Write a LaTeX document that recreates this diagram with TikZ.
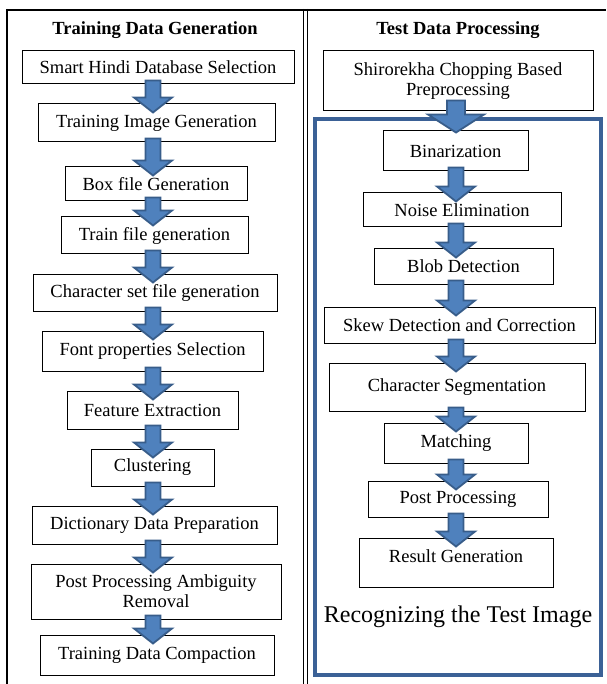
\documentclass[tikz,border=0pt]{standalone}
\usepackage{fontspec}
\setmainfont{Liberation Serif}
\usepackage{xcolor}
\usetikzlibrary{calc}

\definecolor{arrowfill}{HTML}{4F81BD}
\definecolor{arrowline}{HTML}{385D8A}
\definecolor{framecol}{HTML}{3B6196}

\tikzset{
	procbox/.style={draw=black, line width=1pt, fill=white, inner sep=0pt, align=center,
		font=\fontsize{18.5}{20}\selectfont},
	headtext/.style={font=\fontsize{18.5}{20}\selectfont\bfseries},
	blockarrow/.style={fill=arrowfill, draw=arrowline, line width=1.8pt, line join=miter}
}

% block arrow sizes (changed for the wide arrow)
\newcommand{\arrowshaft}{7.5pt}
\newcommand{\arrowwing}{19pt}
\newcommand{\arrowhead}{15pt}
\newcommand{\arrowstart}{4pt}
\newcommand{\arrowend}{9pt}
\newcommand{\flowarrow}[3]{%
	\draw[blockarrow] let \p1=(#1), \p2=(#2.south), \p3=(#3.north) in
		(\x1-\arrowshaft,\y2+\arrowstart) -- (\x1+\arrowshaft,\y2+\arrowstart)
		-- (\x1+\arrowshaft,\y3-\arrowend+\arrowhead) -- (\x1+\arrowwing,\y3-\arrowend+\arrowhead)
		-- (\x1,\y3-\arrowend) -- (\x1-\arrowwing,\y3-\arrowend+\arrowhead)
		-- (\x1-\arrowshaft,\y3-\arrowend+\arrowhead) -- cycle;}

\begin{document}
\begin{tikzpicture}[x=1pt, y=-1pt]
	\useasboundingbox (0,0) rectangle (606,684);
	% table lines
	\draw[line width=2pt] (6,10) -- (606,10);
	\draw[line width=2pt] (7,9) -- (7,684);
	\draw[line width=1.5pt] (303.5,9) -- (303.5,684);
	\draw[line width=1.5pt] (307.5,9) -- (307.5,684);
	\node[headtext] (lhead) at (155,30) {Training Data Generation};
	\node[headtext] (rhead) at (458,30) {Test Data Processing};
	\coordinate (lcol) at (153,0);
	\coordinate (rcol) at (456,0);

	% training column
	\node[procbox, minimum width=272, minimum height=33] (a1) at (158,67.5) {Smart Hindi Database Selection};
	\node[procbox, minimum width=237, minimum height=38] (a2) at (156.5,123) {Training Image Generation};
	\node[procbox, minimum width=182, minimum height=34] (a3) at (156,184) {Box file Generation};
	\node[procbox, minimum width=187, minimum height=37] (a4) at (154.5,235.5) {Train file generation};
	\node[procbox, minimum width=244, minimum height=37] (a5) at (155,292.5) {Character set file generation};
	\node[procbox, minimum width=221, minimum height=40] (a6) at (152.5,351) {Font properties Selection};
	\node[procbox, minimum width=171, minimum height=38] (a7) at (152.5,410) {Feature Extraction};
	\node[procbox, minimum width=123, minimum height=37] (a8) at (152.5,467.5) {Clustering};
	\node[procbox, minimum width=245, minimum height=38] (a9) at (154.5,525) {Dictionary Data Preparation};
	\node[procbox, minimum width=250, minimum height=55] (a10) at (156,591.5) {Post Processing Ambiguity\\Removal};
	\node[procbox, minimum width=234, minimum height=40] (a11) at (157,655) {Training Data Compaction};

	% test column
	\draw[framecol, line width=4.5pt] (315,119) rectangle (601,675);
	\node[procbox, minimum width=270, minimum height=60] (b0) at (458,81) {Shirorekha Chopping Based\\Preprocessing};
	\node[procbox, minimum width=145, minimum height=40] (b1) at (455.5,151) {Binarization};
	\node[procbox, minimum width=198, minimum height=34] (b2) at (462,210) {Noise Elimination};
	\node[procbox, minimum width=179, minimum height=35] (b3) at (463.5,266.5) {Blob Detection};
	\node[procbox, minimum width=271, minimum height=36] (b4) at (459.5,325) {Skew Detection and Correction};
	\node[procbox, minimum width=256, minimum height=48] (b5) at (457,387) {Character Segmentation};
	\node[procbox, minimum width=144, minimum height=40] (b6) at (456,443) {Matching};
	\node[procbox, minimum width=180, minimum height=36] (b7) at (458,499) {Post Processing};
	\node[procbox, minimum width=194, minimum height=49, text depth=13pt] (b8) at (456,562.5) {Result Generation};
	\node[font=\fontsize{24}{28}\selectfont] (recog) at (458,617) {Recognizing the Test Image};

	% arrows
	\foreach \u/\v in {a1/a2,a2/a3,a3/a4,a4/a5,a5/a6,a6/a7,a7/a8,a8/a9,a9/a10,a10/a11} {
		\flowarrow{lcol}{\u}{\v}
	};
	\foreach \u/\v in {b1/b2,b2/b3,b3/b4,b4/b5,b5/b6,b6/b7,b7/b8} {
		\flowarrow{rcol}{\u}{\v}
	};
	{\renewcommand{\arrowshaft}{9pt}\renewcommand{\arrowwing}{28pt}%
	 \renewcommand{\arrowhead}{18pt}\renewcommand{\arrowstart}{11pt}\renewcommand{\arrowend}{2pt}%
	 \flowarrow{rcol}{b0}{b1}}
\end{tikzpicture}
\end{document}
